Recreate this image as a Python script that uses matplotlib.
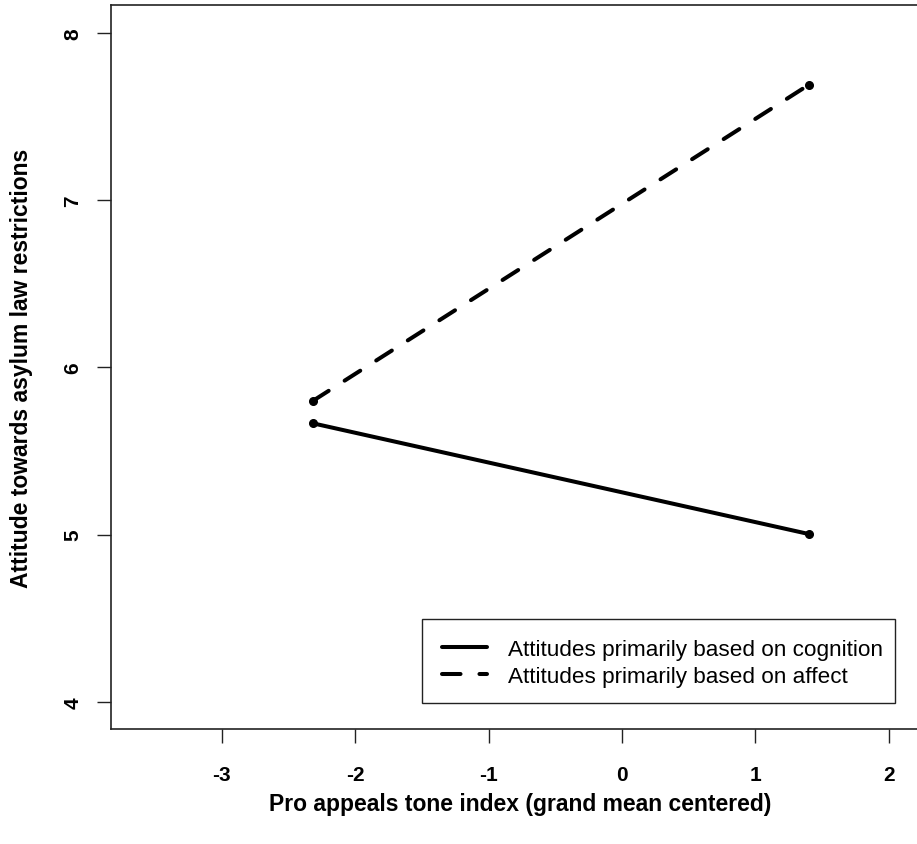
import matplotlib
matplotlib.use('Agg')
import matplotlib.pyplot as plt
from matplotlib.patches import Rectangle

# Datos (pendientes simples)
tone_x = [-2.315, 1.40]
cognition_y = [5.665, 5.003]
affect_y = [5.80, 7.69]
labels = ['Attitudes primarily based on cognition', 'Attitudes primarily based on affect']
x_ticks = [-3, -2, -1, 0, 1, 2]
y_ticks = [4, 5, 6, 7, 8]

plt.rcParams['font.family'] = ['Liberation Sans', 'DejaVu Sans']

W, H = 917, 845
fig = plt.figure(figsize=(W / 100, H / 100), dpi=100)
ax = fig.add_axes([110.7 / W, 1 - 730 / H, (929 - 110.7) / W, (730 - 6) / H])

lw = 2.9
ax.plot(tone_x, cognition_y, color='black', linewidth=lw, solid_capstyle='round',
        marker='o', markersize=5.5, label=labels[0])
ax.plot(tone_x, affect_y, color='black', linewidth=lw, dash_capstyle='round',
        dashes=(4.6, 4.7), marker='o', markersize=5.5, label=labels[1])

ax.set_xlim(-3.831, 2.30)
ax.set_ylim(3.837, 8.167)
ax.set_xticks(x_ticks)
ax.set_yticks(y_ticks)
ax.set_xticklabels([str(t) for t in x_ticks], fontsize=15, fontweight='bold')
ax.set_yticklabels([str(t) for t in y_ticks], fontsize=15, fontweight='bold',
                   rotation=90, va='center')
ax.tick_params(axis='both', direction='out', length=9.8, width=1.0, color='#222222')
ax.tick_params(axis='x', pad=16)
ax.tick_params(axis='y', pad=10.5)

for s in ax.spines.values():
    s.set_linewidth(1.2)
    s.set_color('#222222')

ax.set_xlabel('Pro appeals tone index (grand mean centered)', fontsize=16.5,
              fontweight='bold', labelpad=6)
ax.set_ylabel('Attitude towards asylum law restrictions', fontsize=16.5,
              fontweight='bold', labelpad=22)

# Leyenda sin marco; el marco se dibuja aparte (estilo R)
leg = ax.legend(loc='upper left', bbox_to_anchor=(442 / W, 1 - 640 / H),
                bbox_transform=fig.transFigure, fontsize=16.2, frameon=False,
                handlelength=2.0, borderpad=0, labelspacing=0.28,
                handletextpad=0.93, borderaxespad=0)
for h in leg.legend_handles:
    h.set_marker('')

fig.patches.append(Rectangle((421.7 / W, 1 - 704 / H), (895 - 421.7) / W, (704 - 620) / H,
                             transform=fig.transFigure, fill=False,
                             edgecolor='#222222', linewidth=1.0))

fig.savefig('out.png', dpi=100)
